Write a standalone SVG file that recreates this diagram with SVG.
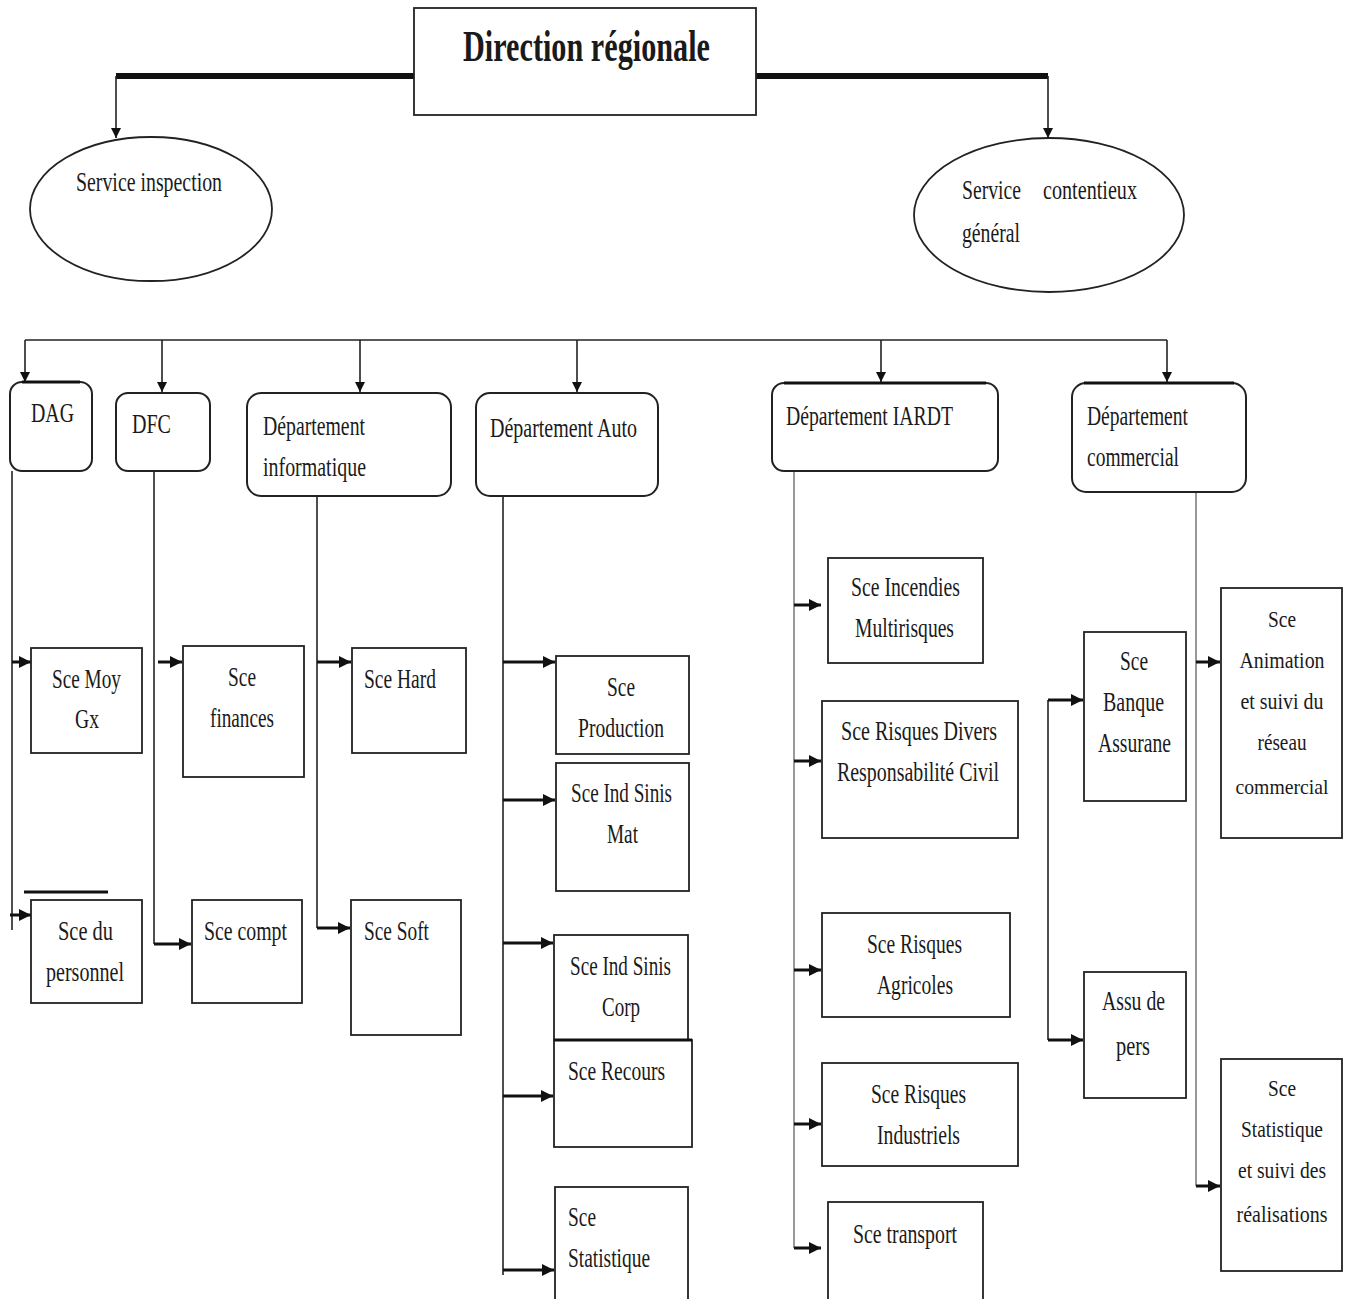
<svg xmlns="http://www.w3.org/2000/svg" width="1346" height="1299" viewBox="0 0 1346 1299">
<defs>
<marker id="ah" viewBox="0 0 10 10" refX="10" refY="5" markerWidth="10" markerHeight="10" markerUnits="userSpaceOnUse" orient="auto"><path d="M0,0 L10,5 L0,10 z" fill="#111"/></marker>
<marker id="ahb" viewBox="0 0 10 10" refX="10" refY="5" markerWidth="12" markerHeight="12" markerUnits="userSpaceOnUse" orient="auto"><path d="M0,0 L10,5 L0,10 z" fill="#111"/></marker>
<style>
.t{font-family:"Liberation Serif","Times New Roman",serif;font-size:27px;fill:#1a1a1a}
.m{text-anchor:middle;font-size:24px}
.b{fill:#fff;stroke:#222;stroke-width:1.8}
.r{fill:#fff;stroke:#222;stroke-width:2}
.thin{fill:none;stroke:#222;stroke-width:1.6}
.gray{fill:none;stroke:#999;stroke-width:2}
.br{fill:none;stroke:#111;stroke-width:3;marker-end:url(#ahb)}
.bus{fill:none;stroke:#222;stroke-width:1.6;marker-end:url(#ah)}
</style>
</defs>
<rect width="1346" height="1299" fill="#fff"/>

<g id="connectors">
<path d="M414,76 H116" stroke="#111" stroke-width="6" fill="none"/>
<path d="M756,76 H1048" stroke="#111" stroke-width="6" fill="none"/>
<path class="bus" d="M116,76 V138"/>
<path class="bus" d="M1048,76 V138"/>
<path class="thin" d="M25,340 H1167"/>
<path class="bus" d="M25,340 V382"/>
<path class="bus" d="M162,340 V392"/>
<path class="bus" d="M360,340 V392"/>
<path class="bus" d="M577,340 V392"/>
<path class="bus" d="M881,340 V382"/>
<path class="bus" d="M1167,340 V382"/>
<path class="thin" d="M12,471 V930"/>
<path class="br" d="M12,662 H31"/>
<path class="br" d="M10,915 H31"/>
<path d="M24,892 H108" stroke="#111" stroke-width="3"/>
<path class="thin" d="M154,471 V944"/>
<path class="br" d="M158,662 H182"/>
<path class="br" d="M154,944 H191"/>
<path class="thin" d="M317,496 V928"/>
<path class="br" d="M317,662 H351"/>
<path class="br" d="M317,928 H350"/>
<path class="thin" d="M503,496 V1275"/>
<path class="br" d="M503,662 H555"/>
<path class="br" d="M503,800 H555"/>
<path class="br" d="M503,943 H553"/>
<path class="br" d="M503,1096 H553"/>
<path class="br" d="M503,1270 H554"/>
<path class="gray" d="M794,471 V1248"/>
<path class="br" d="M794,605 H821"/>
<path class="br" d="M794,761 H821"/>
<path class="br" d="M794,970 H821"/>
<path class="br" d="M794,1124 H821"/>
<path class="br" d="M794,1248 H821"/>
<path class="gray" d="M1196,492 V1186"/>
<path class="br" d="M1196,662 H1220"/>
<path class="br" d="M1196,1186 H1220"/>
<path class="thin" d="M1048,700 V1040"/>
<path class="br" d="M1048,700 H1083"/>
<path class="br" d="M1048,1040 H1083"/>
</g>

<g id="direction">
<rect x="414" y="8" width="342" height="107" class="b"/>
<text x="463" y="61" class="t" style="font-size:44px;font-weight:bold" textLength="247" lengthAdjust="spacingAndGlyphs">Direction régionale</text>
</g>
<g id="service-inspection">
<ellipse cx="151" cy="209" rx="121" ry="72" class="b"/>
<text x="76" y="191" class="t" textLength="146" lengthAdjust="spacingAndGlyphs">Service inspection</text>
</g>
<g id="service-contentieux">
<ellipse cx="1049" cy="215" rx="135" ry="77" class="b"/>
<text class="t"><tspan x="962" y="199" textLength="59" lengthAdjust="spacingAndGlyphs">Service</tspan><tspan x="1043" y="199" textLength="94" lengthAdjust="spacingAndGlyphs">contentieux</tspan></text>
<text x="962" y="242" class="t" textLength="58" lengthAdjust="spacingAndGlyphs">général</text>
</g>

<g id="dag">
<rect x="10" y="382" width="82" height="89" rx="12" class="r"/>
<path d="M22,382 H80" stroke="#111" stroke-width="3"/>
<text x="31" y="422" class="t" textLength="43" lengthAdjust="spacingAndGlyphs">DAG</text>
</g>
<g id="dfc">
<rect x="116" y="393" width="94" height="78" rx="12" class="r"/>
<text x="132" y="433" class="t" textLength="39" lengthAdjust="spacingAndGlyphs">DFC</text>
</g>
<g id="dept-info">
<rect x="247" y="393" width="204" height="103" rx="14" class="r"/>
<text x="263" y="435" class="t" textLength="102" lengthAdjust="spacingAndGlyphs">Département</text>
<text x="263" y="476" class="t" textLength="103" lengthAdjust="spacingAndGlyphs">informatique</text>
</g>
<g id="dept-auto">
<rect x="476" y="393" width="182" height="103" rx="14" class="r"/>
<text x="490" y="437" class="t" textLength="147" lengthAdjust="spacingAndGlyphs">Département Auto</text>
</g>
<g id="dept-iardt">
<rect x="772" y="383" width="226" height="88" rx="12" class="r"/>
<path d="M784,383 H986" stroke="#111" stroke-width="3"/>
<text x="786" y="425" class="t" textLength="167" lengthAdjust="spacingAndGlyphs">Département IARDT</text>
</g>
<g id="dept-commercial">
<rect x="1072" y="383" width="174" height="109" rx="14" class="r"/>
<path d="M1084,383 H1234" stroke="#111" stroke-width="3"/>
<text x="1087" y="425" class="t" textLength="101" lengthAdjust="spacingAndGlyphs">Département</text>
<text x="1087" y="466" class="t" textLength="92" lengthAdjust="spacingAndGlyphs">commercial</text>
</g>

<g id="sce-moy-gx">
<rect x="31" y="648" width="111" height="105" class="b"/>
<text x="52" y="688" class="t" textLength="69" lengthAdjust="spacingAndGlyphs">Sce Moy</text>
<text x="75" y="728" class="t" textLength="24" lengthAdjust="spacingAndGlyphs">Gx</text>
</g>
<g id="sce-personnel">
<rect x="31" y="900" width="111" height="103" class="b"/>
<text x="58" y="940" class="t" textLength="55" lengthAdjust="spacingAndGlyphs">Sce du</text>
<text x="46" y="981" class="t" textLength="78" lengthAdjust="spacingAndGlyphs">personnel</text>
</g>
<g id="sce-finances">
<rect x="183" y="646" width="121" height="131" class="b"/>
<text x="228" y="686" class="t" textLength="28" lengthAdjust="spacingAndGlyphs">Sce</text>
<text x="210" y="727" class="t" textLength="64" lengthAdjust="spacingAndGlyphs">finances</text>
</g>
<g id="sce-compt">
<rect x="192" y="900" width="110" height="103" class="b"/>
<text x="204" y="940" class="t" textLength="83" lengthAdjust="spacingAndGlyphs">Sce compt</text>
</g>
<g id="sce-hard">
<rect x="352" y="648" width="114" height="105" class="b"/>
<text x="364" y="688" class="t" textLength="72" lengthAdjust="spacingAndGlyphs">Sce Hard</text>
</g>
<g id="sce-soft">
<rect x="351" y="900" width="110" height="135" class="b"/>
<text x="364" y="940" class="t" textLength="65" lengthAdjust="spacingAndGlyphs">Sce Soft</text>
</g>

<g id="sce-production">
<rect x="556" y="656" width="133" height="98" class="b"/>
<text x="607" y="696" class="t" textLength="28" lengthAdjust="spacingAndGlyphs">Sce</text>
<text x="578" y="737" class="t" textLength="86" lengthAdjust="spacingAndGlyphs">Production</text>
</g>
<g id="sce-ind-sinis-mat">
<rect x="556" y="763" width="133" height="128" class="b"/>
<text x="571" y="802" class="t" textLength="101" lengthAdjust="spacingAndGlyphs">Sce Ind Sinis</text>
<text x="607" y="843" class="t" textLength="31" lengthAdjust="spacingAndGlyphs">Mat</text>
</g>
<g id="sce-ind-sinis-corp">
<rect x="554" y="935" width="134" height="105" class="b"/>
<text x="570" y="975" class="t" textLength="101" lengthAdjust="spacingAndGlyphs">Sce Ind Sinis</text>
<text x="602" y="1016" class="t" textLength="38" lengthAdjust="spacingAndGlyphs">Corp</text>
</g>
<g id="sce-recours">
<rect x="554" y="1040" width="138" height="107" class="b"/>
<path d="M554,1040 H692" stroke="#111" stroke-width="3"/>
<text x="568" y="1080" class="t" textLength="97" lengthAdjust="spacingAndGlyphs">Sce Recours</text>
</g>
<g id="sce-statistique-auto">
<rect x="555" y="1187" width="133" height="125" class="b"/>
<text x="568" y="1226" class="t" textLength="28" lengthAdjust="spacingAndGlyphs">Sce</text>
<text x="568" y="1267" class="t" textLength="82" lengthAdjust="spacingAndGlyphs">Statistique</text>
</g>

<g id="sce-incendies">
<rect x="828" y="558" width="155" height="105" class="b"/>
<text x="851" y="596" class="t" textLength="109" lengthAdjust="spacingAndGlyphs">Sce Incendies</text>
<text x="855" y="637" class="t" textLength="99" lengthAdjust="spacingAndGlyphs">Multirisques</text>
</g>
<g id="sce-risques-divers">
<rect x="822" y="701" width="196" height="137" class="b"/>
<text x="841" y="740" class="t" textLength="156" lengthAdjust="spacingAndGlyphs">Sce Risques Divers</text>
<text x="837" y="781" class="t" textLength="162" lengthAdjust="spacingAndGlyphs">Responsabilité Civil</text>
</g>
<g id="sce-risques-agricoles">
<rect x="822" y="913" width="188" height="104" class="b"/>
<text x="867" y="953" class="t" textLength="95" lengthAdjust="spacingAndGlyphs">Sce Risques</text>
<text x="877" y="994" class="t" textLength="76" lengthAdjust="spacingAndGlyphs">Agricoles</text>
</g>
<g id="sce-risques-industriels">
<rect x="822" y="1063" width="196" height="103" class="b"/>
<text x="871" y="1103" class="t" textLength="95" lengthAdjust="spacingAndGlyphs">Sce Risques</text>
<text x="877" y="1144" class="t" textLength="83" lengthAdjust="spacingAndGlyphs">Industriels</text>
</g>
<g id="sce-transport">
<rect x="828" y="1202" width="155" height="110" class="b"/>
<text x="853" y="1243" class="t" textLength="104" lengthAdjust="spacingAndGlyphs">Sce transport</text>
</g>

<g id="sce-banque-assurance">
<rect x="1084" y="632" width="102" height="169" class="b"/>
<text x="1120" y="670" class="t" textLength="28" lengthAdjust="spacingAndGlyphs">Sce</text>
<text x="1103" y="711" class="t" textLength="61" lengthAdjust="spacingAndGlyphs">Banque</text>
<text x="1098" y="752" class="t" textLength="73" lengthAdjust="spacingAndGlyphs">Assurane</text>
</g>
<g id="assu-de-pers">
<rect x="1084" y="972" width="102" height="126" class="b"/>
<text x="1102" y="1010" class="t" textLength="63" lengthAdjust="spacingAndGlyphs">Assu de</text>
<text x="1116" y="1055" class="t" textLength="34" lengthAdjust="spacingAndGlyphs">pers</text>
</g>
<g id="sce-animation">
<rect x="1221" y="588" width="121" height="250" class="b"/>
<text x="1282" y="627" class="t m" textLength="28" lengthAdjust="spacingAndGlyphs">Sce</text>
<text x="1282" y="668" class="t m" textLength="85" lengthAdjust="spacingAndGlyphs">Animation</text>
<text x="1282" y="709" class="t m" textLength="83" lengthAdjust="spacingAndGlyphs">et suivi du</text>
<text x="1282" y="750" class="t m" textLength="49" lengthAdjust="spacingAndGlyphs">réseau</text>
<text x="1282" y="794" class="t m" style="font-size:22px" textLength="93" lengthAdjust="spacingAndGlyphs">commercial</text>
</g>
<g id="sce-statistique-commercial">
<rect x="1221" y="1059" width="121" height="212" class="b"/>
<text x="1282" y="1096" class="t m" textLength="28" lengthAdjust="spacingAndGlyphs">Sce</text>
<text x="1282" y="1137" class="t m" textLength="82" lengthAdjust="spacingAndGlyphs">Statistique</text>
<text x="1282" y="1178" class="t m" textLength="88" lengthAdjust="spacingAndGlyphs">et suivi des</text>
<text x="1282" y="1222" class="t m" textLength="91" lengthAdjust="spacingAndGlyphs">réalisations</text>
</g>
</svg>
